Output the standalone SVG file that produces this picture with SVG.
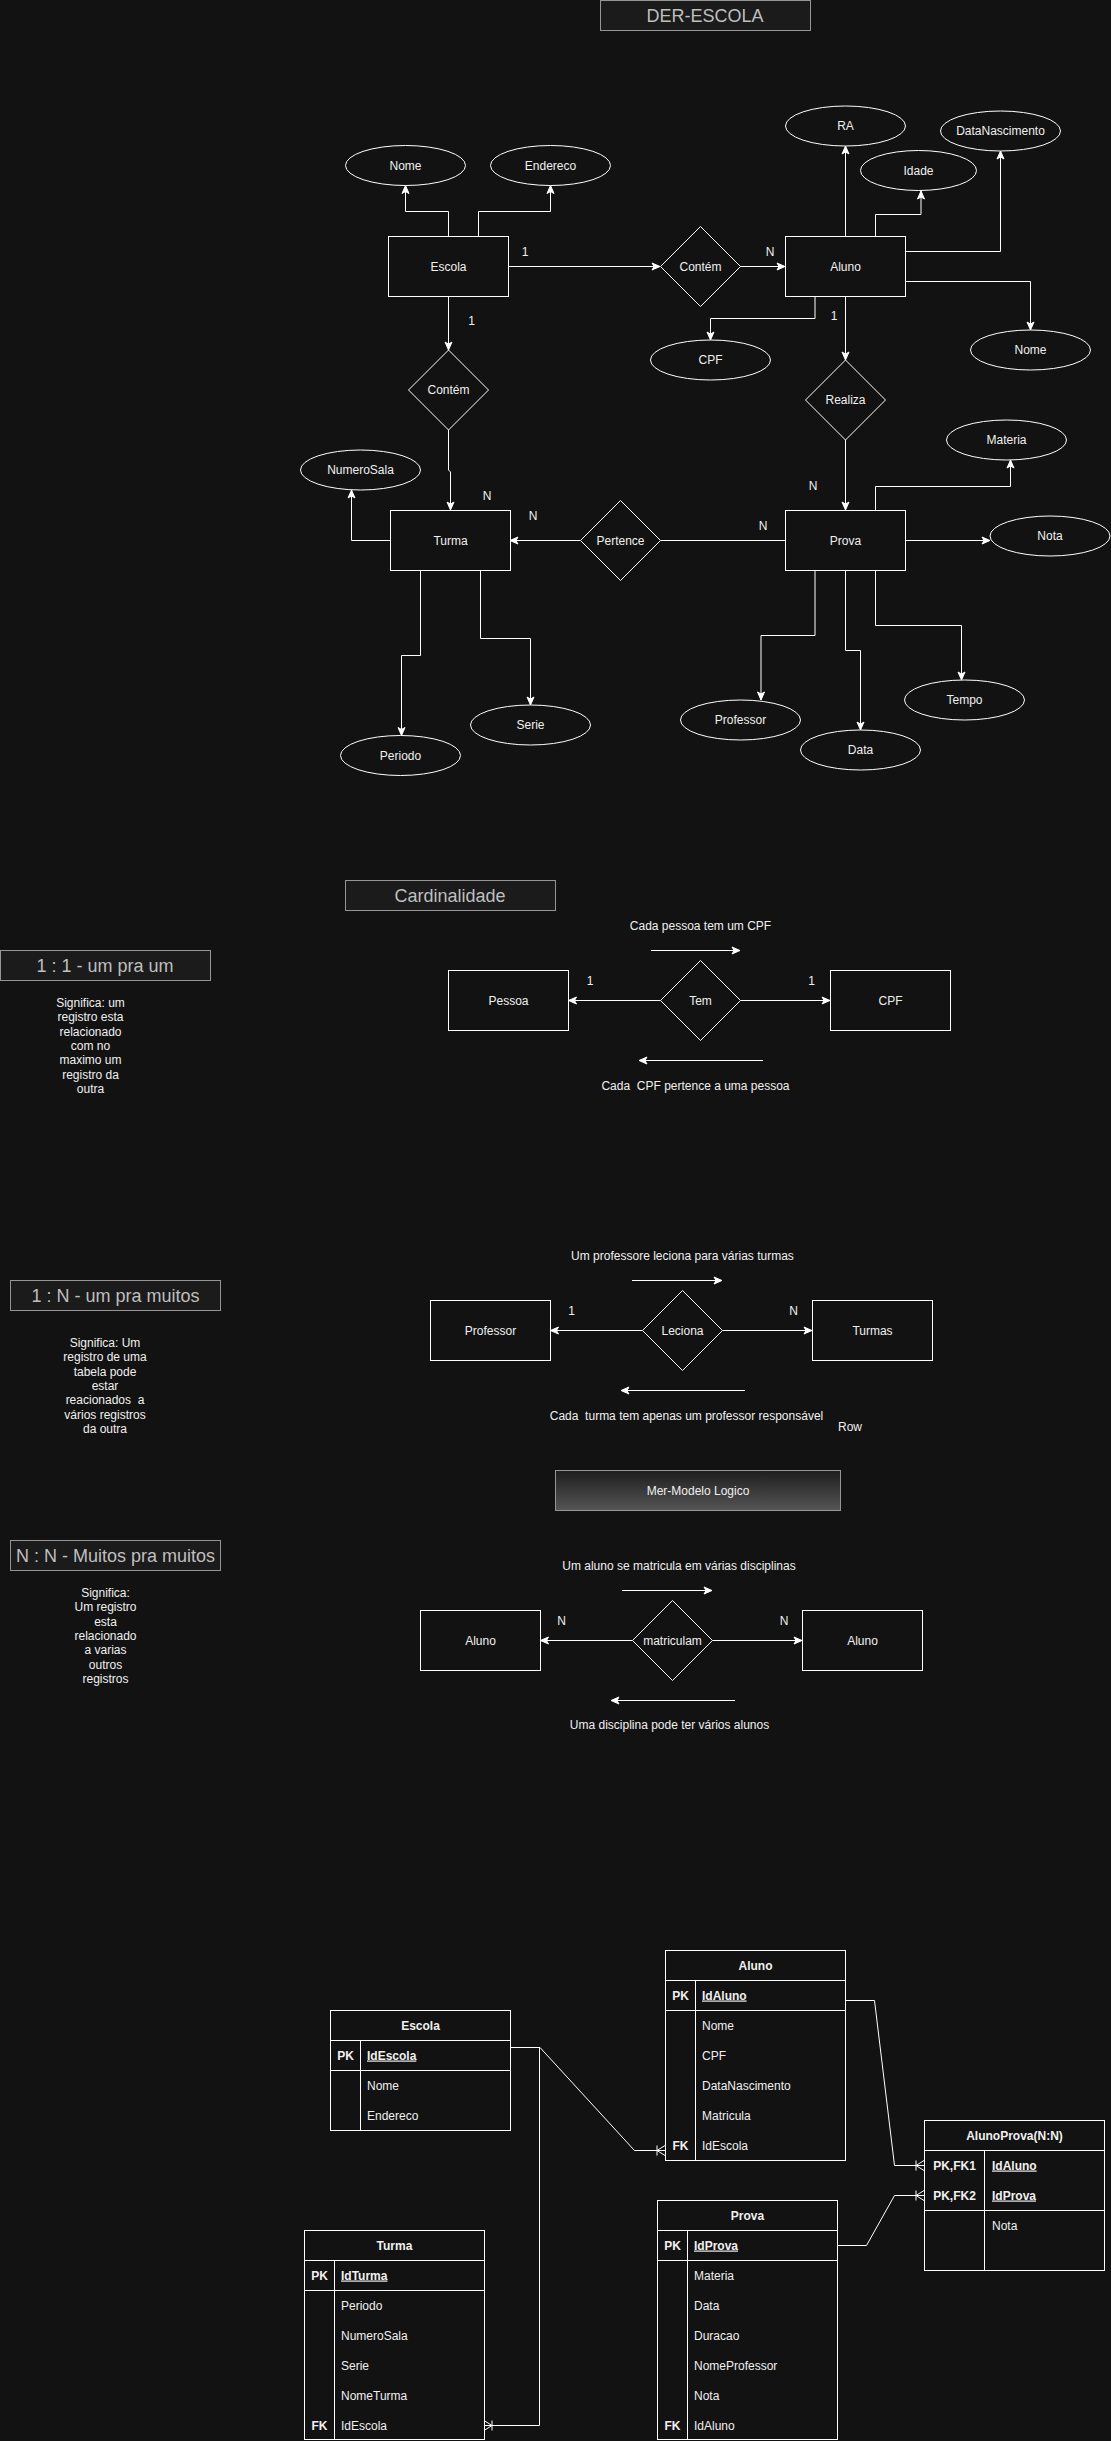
<svg xmlns="http://www.w3.org/2000/svg" width="1111" height="2441" viewBox="0 0 1111 2441">
<defs>
<style>
.t{font-family:"Liberation Sans",Arial,Helvetica,sans-serif;font-size:12px;fill:#f0f0f0;text-anchor:middle}
.l{text-anchor:start}
.b{font-weight:bold}
.u{text-decoration:underline}
.pre{white-space:pre}
.ent{fill:#121212;stroke:#ffffff;stroke-width:1}
.hd{fill:#1b1b1b;stroke:#959595;stroke-width:1}
.ht{font-family:"Liberation Sans",Arial,Helvetica,sans-serif;font-size:18px;fill:#bfbfbf;text-anchor:middle}
.ln{fill:none;stroke:#ffffff;stroke-width:1}
.ar{marker-end:url(#arrow)}
.cr{marker-end:url(#crow)}
</style>
<marker id="arrow" markerUnits="userSpaceOnUse" viewBox="-9 -5 10 10" refX="0" refY="0" markerWidth="10" markerHeight="10" orient="auto">
<path d="M-8,-3.5 L0,0 L-8,3.5 L-6,0 Z" fill="#ffffff" stroke="#ffffff" stroke-width="1" stroke-linejoin="miter"/>
</marker>
<marker id="crow" markerUnits="userSpaceOnUse" viewBox="-10 -6 11 12" refX="0" refY="0" markerWidth="11" markerHeight="12" orient="auto">
<path d="M-8,-5 V5 M-8,0 L0,-5 M-8,0 L0,5" fill="none" stroke="#ffffff" stroke-width="1"/>
</marker>
<linearGradient id="grad" x1="0" y1="0" x2="0" y2="1">
<stop offset="0" stop-color="#1e1e1e"/>
<stop offset="1" stop-color="#555555"/>
</linearGradient>
</defs>
<rect x="0" y="0" width="1111" height="2441" fill="#121212"/>

<!-- Headings -->
<g id="title-der">
<rect class="hd" x="600.5" y="0.5" width="210" height="30"/>
<text class="ht" x="705" y="21.5">DER-ESCOLA</text>
</g>
<g id="title-cardinalidade">
<rect class="hd" x="345.5" y="880.5" width="210" height="30"/>
<text class="ht" x="450" y="901.5">Cardinalidade</text>
</g>
<g id="title-11">
<rect class="hd" x="0.5" y="950.5" width="210" height="30"/>
<text class="ht" x="105" y="971.5">1 : 1 - um pra um</text>
</g>
<g id="title-1n">
<rect class="hd" x="10.5" y="1280.5" width="210" height="30"/>
<text class="ht" x="115.5" y="1301.5">1 : N - um pra muitos</text>
</g>
<g id="title-nn">
<rect class="hd" x="10.5" y="1540.5" width="210" height="30"/>
<text class="ht" x="115.5" y="1561.5">N : N - Muitos pra muitos</text>
</g>
<g id="title-mer">
<rect x="555.5" y="1470.5" width="285" height="40" fill="url(#grad)" stroke="#959595" stroke-width="1"/>
<text class="t" x="698" y="1494.5">Mer-Modelo Logico</text>
</g>

<!-- Connectors -->
<g id="connectors">
<path class="ln ar" d="M448.5,236 V211.5 H405.5 V185.5"/>
<path class="ln ar" d="M478.5,236 V211.5 H550.5 V185.5"/>
<path class="ln ar" d="M508,266.5 H660"/>
<path class="ln ar" d="M740,266.5 H785"/>
<path class="ln ar" d="M845.5,236 V146"/>
<path class="ln ar" d="M875.5,236 V214.5 H921 V191"/>
<path class="ln ar" d="M905,251.5 H1000.5 V151"/>
<path class="ln ar" d="M905,281.5 H1030.5 V330"/>
<path class="ln ar" d="M815,296 V318.5 H710.5 V340"/>
<path class="ln ar" d="M845.5,296 V360"/>
<path class="ln ar" d="M448.5,296 V350"/>
<path class="ln ar" d="M448.5,430 V470 L450.5,472 V510"/>
<path class="ln ar" d="M390,540.5 H351.5 V490"/>
<path class="ln ar" d="M580.5,540.5 H510"/>
<path class="ln" d="M660.5,540.5 H785"/>
<path class="ln ar" d="M845.5,440 V510"/>
<path class="ln ar" d="M875.5,510 V486.5 H1010.5 V460"/>
<path class="ln ar" d="M905,540.5 H990"/>
<path class="ln ar" d="M420.5,570 V655.5 H401.5 V735.5"/>
<path class="ln ar" d="M480.5,570 V638.5 H530.5 V705"/>
<path class="ln ar" d="M815,570 V635.5 H761 V700"/>
<path class="ln ar" d="M845.5,570 V650.5 H860.5 V730"/>
<path class="ln ar" d="M875.5,570 V625.5 H961.5 V680"/>

<path class="ln ar" d="M651,950.5 H740"/>
<path class="ln ar" d="M660.5,1000.5 H568.5"/>
<path class="ln ar" d="M740.5,1000.5 H830"/>
<path class="ln ar" d="M763,1060.5 H639"/>

<path class="ln ar" d="M632,1280.5 H722"/>
<path class="ln ar" d="M642.5,1330.5 H550.5"/>
<path class="ln ar" d="M722.5,1330.5 H812"/>
<path class="ln ar" d="M745,1390.5 H621"/>

<path class="ln ar" d="M622,1590.5 H712"/>
<path class="ln ar" d="M632.5,1640.5 H540.5"/>
<path class="ln ar" d="M712.5,1640.5 H802"/>
<path class="ln ar" d="M735,1700.5 H611"/>

<path class="ln cr" d="M510,2047.5 H540 L634.5,2150.5 H665"/>
<path class="ln cr" d="M510,2047.5 H539.5 V2425.5 H484"/>
<path class="ln cr" d="M845,2000.5 H874.5 L894.5,2165.5 H924"/>
<path class="ln cr" d="M837,2245.5 H866.5 L894.5,2195.5 H924"/>
</g>

<!-- ER labels -->
<g id="card-labels">
<text class="t" x="525" y="256">1</text>
<text class="t" x="770" y="256">N</text>
<text class="t" x="471.5" y="325">1</text>
<text class="t" x="834" y="319.5">1</text>
<text class="t" x="487" y="500">N</text>
<text class="t" x="533" y="520">N</text>
<text class="t" x="763" y="530">N</text>
<text class="t" x="813" y="490">N</text>
</g>

<!-- DER nodes -->
<g id="escola"><rect class="ent" x="388.5" y="236.5" width="120" height="60"/><text class="t" x="448.5" y="270.5">Escola</text></g>
<g id="escola-nome"><ellipse class="ent" cx="405.5" cy="165.5" rx="60" ry="20"/><text class="t" x="405.5" y="169.5">Nome</text></g>
<g id="escola-endereco"><ellipse class="ent" cx="550.5" cy="165.5" rx="60" ry="20"/><text class="t" x="550.5" y="169.5">Endereco</text></g>
<g id="contem1"><polygon class="ent" points="700.5,226.5 740.5,266.5 700.5,306.5 660.5,266.5"/><text class="t" x="700.5" y="270.5">Contém</text></g>
<g id="aluno"><rect class="ent" x="785.5" y="236.5" width="120" height="60"/><text class="t" x="845.5" y="270.5">Aluno</text></g>
<g id="aluno-ra"><ellipse class="ent" cx="845.5" cy="126" rx="60" ry="20"/><text class="t" x="845.5" y="130">RA</text></g>
<g id="aluno-idade"><ellipse class="ent" cx="918.5" cy="170.5" rx="58" ry="20"/><text class="t" x="918.5" y="174.5">Idade</text></g>
<g id="aluno-datanascimento"><ellipse class="ent" cx="1000.5" cy="131" rx="60" ry="20"/><text class="t" x="1000.5" y="135">DataNascimento</text></g>
<g id="aluno-nome"><ellipse class="ent" cx="1030.5" cy="350" rx="60" ry="20"/><text class="t" x="1030.5" y="354">Nome</text></g>
<g id="aluno-cpf"><ellipse class="ent" cx="710.5" cy="360" rx="60" ry="20"/><text class="t" x="710.5" y="364">CPF</text></g>
<g id="realiza"><polygon class="ent" points="845.5,360 885.5,400 845.5,440 805.5,400"/><text class="t" x="845.5" y="404">Realiza</text></g>
<g id="contem2"><polygon class="ent" points="448.5,350 488.5,390 448.5,430 408.5,390"/><text class="t" x="448.5" y="394">Contém</text></g>
<g id="turma"><rect class="ent" x="390.5" y="510.5" width="120" height="60"/><text class="t" x="450.5" y="544.5">Turma</text></g>
<g id="turma-numerosala"><ellipse class="ent" cx="360.5" cy="470" rx="60" ry="20"/><text class="t" x="360.5" y="474">NumeroSala</text></g>
<g id="pertence"><polygon class="ent" points="620.5,500.5 660.5,540.5 620.5,580.5 580.5,540.5"/><text class="t" x="620.5" y="544.5">Pertence</text></g>
<g id="prova"><rect class="ent" x="785.5" y="510.5" width="120" height="60"/><text class="t" x="845.5" y="544.5">Prova</text></g>
<g id="prova-materia"><ellipse class="ent" cx="1006.5" cy="440" rx="60" ry="20"/><text class="t" x="1006.5" y="444">Materia</text></g>
<g id="prova-nota"><ellipse class="ent" cx="1050" cy="536" rx="60" ry="20"/><text class="t" x="1050" y="540">Nota</text></g>
<g id="turma-periodo"><ellipse class="ent" cx="400.5" cy="755.5" rx="60" ry="20"/><text class="t" x="400.5" y="759.5">Periodo</text></g>
<g id="turma-serie"><ellipse class="ent" cx="530.5" cy="725" rx="60" ry="20"/><text class="t" x="530.5" y="729">Serie</text></g>
<g id="prova-professor"><ellipse class="ent" cx="740.5" cy="720" rx="60" ry="20"/><text class="t" x="740.5" y="724">Professor</text></g>
<g id="prova-data"><ellipse class="ent" cx="860.5" cy="750" rx="60" ry="20"/><text class="t" x="860.5" y="754">Data</text></g>
<g id="prova-tempo"><ellipse class="ent" cx="964.5" cy="700" rx="60" ry="20"/><text class="t" x="964.5" y="704">Tempo</text></g>

<!-- 1:1 -->
<g id="sig-11">
<text class="t" x="90.5" y="1006.7">Significa: um</text>
<text class="t" x="90.5" y="1021.1">registro esta</text>
<text class="t" x="90.5" y="1035.5">relacionado</text>
<text class="t" x="90.5" y="1049.9">com no</text>
<text class="t" x="90.5" y="1064.3">maximo um</text>
<text class="t" x="90.5" y="1078.7">registro da</text>
<text class="t" x="90.5" y="1093.1">outra</text>
</g>
<g id="txt-11">
<text class="t" x="700.5" y="929.7">Cada pessoa tem um CPF</text>
<text class="t pre" x="695.5" y="1089.7">Cada  CPF pertence a uma pessoa</text>
<text class="t" x="590" y="984.5">1</text>
<text class="t" x="811.5" y="984.5">1</text>
</g>
<g id="pessoa"><rect class="ent" x="448.5" y="970.5" width="120" height="60"/><text class="t" x="508.5" y="1004.5">Pessoa</text></g>
<g id="tem"><polygon class="ent" points="700.5,960.5 740.5,1000.5 700.5,1040.5 660.5,1000.5"/><text class="t" x="700.5" y="1004.5">Tem</text></g>
<g id="cpf"><rect class="ent" x="830.5" y="970.5" width="120" height="60"/><text class="t" x="890.5" y="1004.5">CPF</text></g>

<!-- 1:N -->
<g id="sig-1n">
<text class="t" x="105" y="1346.7">Significa: Um</text>
<text class="t" x="105" y="1361.1">registro de uma</text>
<text class="t" x="105" y="1375.5">tabela pode</text>
<text class="t" x="105" y="1389.9">estar</text>
<text class="t pre" x="105" y="1404.3">reacionados  a</text>
<text class="t" x="105" y="1418.7">vários registros</text>
<text class="t" x="105" y="1433.1">da outra</text>
</g>
<g id="txt-1n">
<text class="t" x="682.5" y="1259.7">Um professore leciona para várias turmas</text>
<text class="t pre" x="686.5" y="1419.7">Cada  turma tem apenas um professor responsável</text>
<text class="t" x="850" y="1430.7">Row</text>
<text class="t" x="571.5" y="1314.5">1</text>
<text class="t" x="793.5" y="1314.5">N</text>
</g>
<g id="professor"><rect class="ent" x="430.5" y="1300.5" width="120" height="60"/><text class="t" x="490.5" y="1334.5">Professor</text></g>
<g id="leciona"><polygon class="ent" points="682.5,1290.5 722.5,1330.5 682.5,1370.5 642.5,1330.5"/><text class="t" x="682.5" y="1334.5">Leciona</text></g>
<g id="turmas"><rect class="ent" x="812.5" y="1300.5" width="120" height="60"/><text class="t" x="872.5" y="1334.5">Turmas</text></g>

<!-- N:N -->
<g id="sig-nn">
<text class="t" x="105.5" y="1597">Significa:</text>
<text class="t" x="105.5" y="1611.3">Um registro</text>
<text class="t" x="105.5" y="1625.6">esta</text>
<text class="t" x="105.5" y="1639.9">relacionado</text>
<text class="t" x="105.5" y="1654.2">a varias</text>
<text class="t" x="105.5" y="1668.5">outros</text>
<text class="t" x="105.5" y="1682.8">registros</text>
</g>
<g id="txt-nn">
<text class="t" x="679" y="1570">Um aluno se matricula em várias disciplinas</text>
<text class="t" x="669.5" y="1729">Uma disciplina pode ter vários alunos</text>
<text class="t" x="561.5" y="1625">N</text>
<text class="t" x="784" y="1625">N</text>
</g>
<g id="aluno-nn1"><rect class="ent" x="420.5" y="1610.5" width="120" height="60"/><text class="t" x="480.5" y="1644.5">Aluno</text></g>
<g id="matriculam"><polygon class="ent" points="672.5,1600.5 712.5,1640.5 672.5,1680.5 632.5,1640.5"/><text class="t" x="672.5" y="1644.5">matriculam</text></g>
<g id="aluno-nn2"><rect class="ent" x="802.5" y="1610.5" width="120" height="60"/><text class="t" x="862.5" y="1644.5">Aluno</text></g>

<!-- Logical tables -->
<g id="tbl-escola">
<rect class="ent" x="330.5" y="2010.5" width="180" height="120"/>
<path class="ln" d="M330.5,2040.5 H510.5 M330.5,2070.5 H510.5 M360.5,2040.5 V2130.5"/>
<text class="t b" x="420.5" y="2029.5">Escola</text>
<text class="t b" x="345.5" y="2059.5">PK</text>
<text class="t l b u" x="367" y="2059.5">IdEscola</text>
<text class="t l" x="367" y="2089.5">Nome</text>
<text class="t l" x="367" y="2119.5">Endereco</text>
</g>
<g id="tbl-aluno">
<rect class="ent" x="665.5" y="1950.5" width="180" height="210"/>
<path class="ln" d="M665.5,1980.5 H845.5 M665.5,2010.5 H845.5 M695.5,1980.5 V2160.5"/>
<text class="t b" x="755.5" y="1969.5">Aluno</text>
<text class="t b" x="680.5" y="1999.5">PK</text>
<text class="t l b u" x="702" y="1999.5">IdAluno</text>
<text class="t l" x="702" y="2029.5">Nome</text>
<text class="t l" x="702" y="2059.5">CPF</text>
<text class="t l" x="702" y="2089.5">DataNascimento</text>
<text class="t l" x="702" y="2119.5">Matricula</text>
<text class="t b" x="680.5" y="2149.5">FK</text>
<text class="t l" x="702" y="2149.5">IdEscola</text>
</g>
<g id="tbl-alunoprova">
<rect class="ent" x="924.5" y="2120.5" width="180" height="150"/>
<path class="ln" d="M924.5,2150.5 H1104.5 M924.5,2210.5 H1104.5 M984.5,2150.5 V2270.5"/>
<text class="t b" x="1014.5" y="2139.5">AlunoProva(N:N)</text>
<text class="t b" x="954.5" y="2169.5">PK,FK1</text>
<text class="t l b u" x="992" y="2169.5">IdAluno</text>
<text class="t b" x="954.5" y="2199.5">PK,FK2</text>
<text class="t l b u" x="992" y="2199.5">IdProva</text>
<text class="t l" x="992" y="2229.5">Nota</text>
</g>
<g id="tbl-prova">
<rect class="ent" x="657.5" y="2200.5" width="180" height="239"/>
<path class="ln" d="M657.5,2230.5 H837.5 M657.5,2260.5 H837.5 M687.5,2230.5 V2439.5"/>
<text class="t b" x="747.5" y="2219.5">Prova</text>
<text class="t b" x="672.5" y="2249.5">PK</text>
<text class="t l b u" x="694" y="2249.5">IdProva</text>
<text class="t l" x="694" y="2279.5">Materia</text>
<text class="t l" x="694" y="2309.5">Data</text>
<text class="t l" x="694" y="2339.5">Duracao</text>
<text class="t l" x="694" y="2369.5">NomeProfessor</text>
<text class="t l" x="694" y="2399.5">Nota</text>
<text class="t b" x="672.5" y="2429.5">FK</text>
<text class="t l" x="694" y="2429.5">IdAluno</text>
</g>
<g id="tbl-turma">
<rect class="ent" x="304.5" y="2230.5" width="180" height="209"/>
<path class="ln" d="M304.5,2260.5 H484.5 M304.5,2290.5 H484.5 M334.5,2260.5 V2439.5"/>
<text class="t b" x="394.5" y="2249.5">Turma</text>
<text class="t b" x="319.5" y="2279.5">PK</text>
<text class="t l b u" x="341" y="2279.5">IdTurma</text>
<text class="t l" x="341" y="2309.5">Periodo</text>
<text class="t l" x="341" y="2339.5">NumeroSala</text>
<text class="t l" x="341" y="2369.5">Serie</text>
<text class="t l" x="341" y="2399.5">NomeTurma</text>
<text class="t b" x="319.5" y="2429.5">FK</text>
<text class="t l" x="341" y="2429.5">IdEscola</text>
</g>
</svg>
